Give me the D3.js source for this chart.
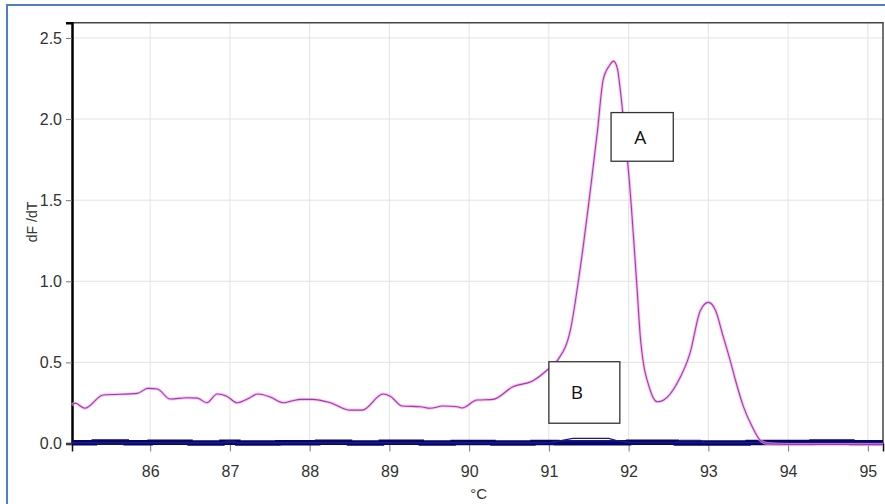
<!DOCTYPE html>
<html>
<head>
<meta charset="utf-8">
<script src="https://cdn.jsdelivr.net/npm/d3@7"></script>
<style>
	body { margin: 0; background: #fff; }
	svg { display: block; }
</style>
</head>
<body>
<svg id="chart" width="885" height="504"></svg>
<script>
// temperature (degC) and dF/dT for sample A (magenta curve)
var tempA = [85.02, 85.06, 85.18, 85.41, 85.84, 85.97, 86.09, 86.25, 86.46, 86.59,
	86.71, 86.84, 86.96, 87.09, 87.22, 87.35, 87.50, 87.67, 87.79, 87.88,
	88.04, 88.26, 88.51, 88.66, 88.92, 89.01, 89.16, 89.39, 89.51, 89.67,
	89.85, 89.91, 90.10, 90.30, 90.55, 90.80, 90.98, 91.11, 91.27, 91.39,
	91.52, 91.61, 91.68, 91.76, 91.81, 91.86, 91.90, 91.96, 92.00, 92.10,
	92.15, 92.27, 92.36, 92.44, 92.61, 92.77, 92.90, 93.00, 93.09, 93.18,
	93.28, 93.34, 93.44, 93.55, 93.65, 93.74, 94.03, 95.19];
var valueA = [0.237, 0.249, 0.217, 0.299, 0.309, 0.34, 0.336, 0.274, 0.282, 0.28,
	0.251, 0.305, 0.292, 0.251, 0.274, 0.305, 0.288, 0.251, 0.264, 0.272,
	0.272, 0.251, 0.206, 0.206, 0.305, 0.292, 0.231, 0.227, 0.217, 0.231,
	0.227, 0.219, 0.268, 0.272, 0.35, 0.387, 0.453, 0.514, 0.70, 1.07,
	1.56, 1.93, 2.24, 2.33, 2.357, 2.31, 2.16, 1.87, 1.67, 1.0,
	0.64, 0.33, 0.257, 0.268, 0.373, 0.557, 0.82, 0.87, 0.82, 0.67,
	0.50, 0.39, 0.227, 0.103, 0.02, 0.0, -0.006, -0.006];

// sample B and the other no-template wells, all close to zero (navy curves)
var tempB1 = [85.02, 85.3, 85.7, 86.0, 86.5, 86.9, 87.1, 87.6, 88.1, 88.5,
	88.9, 89.4, 89.8, 90.3, 90.8, 91.1, 92.0, 92.6, 93.5, 94.3, 94.8, 95.19];
var valueB1 = [0.004, 0.009, 0.004, 0.008, 0.003, 0.008, 0.003, 0.004, 0.008, 0.003,
	0.007, 0.003, 0.006, 0.003, 0.006, 0.004, 0.007, 0.003, 0.006, 0.009, 0.004, 0.004];
var tempB2 = [85.02, 86.9, 86.97, 87.05, 87.1, 91.05, 91.15, 91.3, 91.75, 91.85,
	92.0, 92.6, 92.65, 92.9, 92.95, 95.19];
var valueB2 = [0.004, 0.004, 0.015, 0.015, 0.004, 0.004, 0.018, 0.032, 0.032, 0.018,
	0.006, 0.006, 0.02, 0.02, 0.006, 0.004];
var tempB3 = [85.02, 91.0, 91.15, 91.9, 92.05, 95.19];
var valueB3 = [0.005, 0.005, 0.016, 0.016, 0.005, 0.005];

var xTicks = [86, 87, 88, 89, 90, 91, 92, 93, 94, 95];
var yTicks = [0, 0.5, 1.0, 1.5, 2.0, 2.5];

// annotation boxes: label, temp range, value range
var boxLabels = ["A", "B"];
var boxTemp = [[91.78, 92.56], [91.0, 91.89]];
var boxValue = [[2.04, 1.74], [0.504, 0.125]];

var svg = d3.select("#chart");
var fontFamily = "Liberation Sans, Arial, sans-serif";

var plot = {left: 72, right: 883, top: 22.7, bottom: 443.5};

var x = d3.scaleLinear().domain([85.02, 95.19]).range([plot.left, plot.right]);
var y = d3.scaleLinear().domain([0, 2.594]).range([plot.bottom, plot.top]);

// outer frame
svg.append("rect")
	.attr("x", 7).attr("y", 5)
	.attr("width", 920).attr("height", 540)
	.attr("fill", "#fff")
	.attr("stroke", "#4f81bd")
	.attr("stroke-width", 2);

// grid
var grid = svg.append("g").attr("class", "grid");
grid.selectAll("line.vx").data(xTicks).enter().append("line")
	.attr("x1", function (d) { return x(d); })
	.attr("x2", function (d) { return x(d); })
	.attr("y1", plot.top).attr("y2", plot.bottom)
	.attr("stroke", "#e3e3e3").attr("stroke-width", 1);
grid.selectAll("line.hy").data(yTicks).enter().append("line")
	.attr("x1", plot.left).attr("x2", plot.right)
	.attr("y1", function (d) { return y(d); })
	.attr("y2", function (d) { return y(d); })
	.attr("stroke", "#e3e3e3").attr("stroke-width", 1);

// plot border (top and right)
svg.append("path")
	.attr("d", "M" + plot.left + "," + plot.top + "H" + plot.right + "V" + plot.bottom)
	.attr("fill", "none")
	.attr("stroke", "#444")
	.attr("stroke-width", 1.5);

// axes
var xAxis = d3.axisBottom(x).tickValues(xTicks).tickSize(8).tickPadding(14)
	.tickFormat(d3.format("d"));
var gx = svg.append("g")
	.attr("transform", "translate(0," + plot.bottom + ")")
	.call(xAxis);
gx.select(".domain").attr("stroke", "#111").attr("stroke-width", 1.5);

var yAxis = d3.axisLeft(y).tickValues(yTicks).tickSize(6).tickPadding(4)
	.tickFormat(d3.format(".1f"));
var gy = svg.append("g")
	.attr("transform", "translate(" + plot.left + ",0)")
	.call(yAxis);
gy.select(".domain").attr("stroke", "#000").attr("stroke-width", 2.5);

svg.selectAll(".tick line").attr("stroke", "#777");
svg.selectAll(".tick text")
	.attr("font-family", fontFamily)
	.attr("font-size", "16px")
	.attr("fill", "#333");

// axis titles
svg.append("text")
	.attr("x", x(90.12)).attr("y", 499)
	.attr("text-anchor", "middle")
	.attr("font-family", fontFamily)
	.attr("font-size", "15px")
	.attr("fill", "#333")
	.text("°C");

svg.append("text")
	.attr("transform", "translate(37,222) rotate(-90)")
	.attr("text-anchor", "middle")
	.attr("font-family", fontFamily)
	.attr("font-size", "14px")
	.attr("fill", "#333")
	.text("dF /dT");

// curves
var line = d3.line()
	.x(function (d) { return x(d[0]); })
	.y(function (d) { return y(d[1]); });

var zipSeries = function (ts, vs) {
	return ts.map(function (t, i) { return [t, vs[i]]; });
};

var curves = svg.append("g").attr("class", "curves");

curves.append("path")
	.datum(zipSeries(tempB1, valueB1))
	.attr("d", line.curve(d3.curveStepAfter))
	.attr("fill", "none")
	.attr("stroke", "#05056a")
	.attr("stroke-width", 5.5);

curves.append("path")
	.datum(zipSeries(tempB3, valueB3))
	.attr("d", line.curve(d3.curveLinear))
	.attr("fill", "none")
	.attr("stroke", "#1a1a80")
	.attr("stroke-width", 1.2);

curves.append("path")
	.datum(zipSeries(tempB2, valueB2))
	.attr("d", line.curve(d3.curveLinear))
	.attr("fill", "none")
	.attr("stroke", "#1a1a80")
	.attr("stroke-width", 1.2);

// magenta curve: soft halo plus darker core
var dataA = zipSeries(tempA, valueA);
curves.append("path")
	.datum(dataA)
	.attr("d", line.curve(d3.curveMonotoneX))
	.attr("fill", "none")
	.attr("stroke", "#f2a6f2")
	.attr("stroke-width", 3)
	.attr("stroke-opacity", 0.7);
curves.append("path")
	.datum(dataA)
	.attr("d", line.curve(d3.curveMonotoneX))
	.attr("fill", "none")
	.attr("stroke", "#a83aa8")
	.attr("stroke-width", 1.1);

// annotation boxes
var boxes = svg.append("g").attr("class", "boxes");
boxLabels.forEach(function (label, i) {
	var x0 = x(boxTemp[i][0]), x1 = x(boxTemp[i][1]);
	var y0 = y(boxValue[i][0]), y1 = y(boxValue[i][1]);
	boxes.append("rect")
		.attr("x", x0).attr("y", y0)
		.attr("width", x1 - x0).attr("height", y1 - y0)
		.attr("fill", "#fff")
		.attr("stroke", "#333")
		.attr("stroke-width", 1.3);
	boxes.append("text")
		.attr("x", i === 0 ? (x0 + x1) / 2 - 2 : x0 + 28)
		.attr("y", (y0 + y1) / 2 + 7)
		.attr("text-anchor", "middle")
		.attr("font-family", "Open Sans, Liberation Sans, sans-serif")
		.attr("font-size", "19px")
		.attr("fill", "#111")
		.text(label);
});
</script>
</body>
</html>
